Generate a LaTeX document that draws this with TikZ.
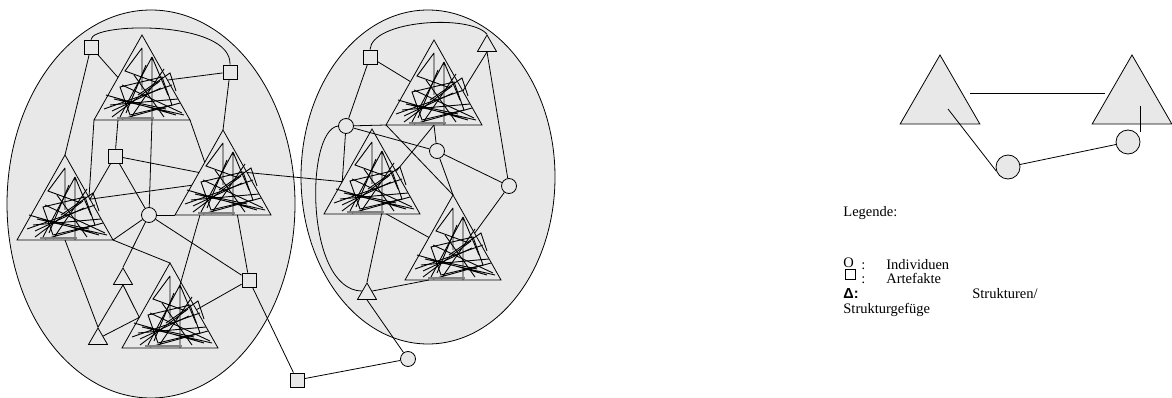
\documentclass[tikz,border=0pt]{standalone}
\usepackage{fontspec}
\setmainfont{Liberation Serif}
\newfontfamily\legsans{Liberation Sans}
\usepackage{tikz}
\usetikzlibrary{shapes.geometric, calc}

\definecolor{bgray}{HTML}{E8E8E8}
\newcommand\legfont{\fontsize{14.5}{16}\selectfont}

\tikzset{
  gefuege/.pic={
    \coordinate (-apex) at (0,0);
    \coordinate (-left) at (-48,85);
    \coordinate (-right) at (48,85);
    \coordinate (-top) at (10,22);
    \coordinate (-stem) at (10,85);
    \draw (-apex) -- (-left) -- (-right) -- cycle;
    % inner scribble
    \begin{scope}[line width=0.9pt]
      \draw (0,13) -- (0,55) (0,13) -- (-17,36) -- (16,48);
      \draw (-top) -- (-stem) (-top) -- (-4,48) -- (-22,82) (-top) -- (26,60);
      \draw (-22,52) -- (20,42) -- (30,70) -- (-12,80) -- cycle;
      \draw (-36,60) -- (34,80) (-38,74) -- (30,50) (-28,64) -- (42,80);
      \draw (-30,82) -- (18,46) (-12,84) -- (22,34) (-20,84) -- (38,68);
      \draw (-32,70) -- (36,64) (-8,40) -- (22,82) (4,30) -- (-16,78);
      \draw (-4,60) -- (28,38) -- (34,56);
      \draw (-30,76) -- (19,53) (-20,50) -- (40,78) (-14,66) -- (24,74);
    \end{scope}
    \draw[gray, line width=1.2pt] (-25,83) -- (12,83);
  }
}

\begin{document}
\begin{tikzpicture}[
  x=1pt, y=-1pt, line width=0.8pt,
  artefakt/.style={rectangle, draw, fill=bgray, minimum size=14pt, inner sep=0pt},
  individuum/.style={circle, draw, fill=bgray, minimum size=15pt, inner sep=0pt},
  struktur/.style={regular polygon, regular polygon sides=3, draw, fill=bgray,
                   minimum size=22pt, inner sep=0pt},
  legtri/.style={struktur, minimum size=92pt},
  legtext/.style={anchor=base west, inner sep=0pt, font=\legfont},
]
  \useasboundingbox (0,0) rectangle (1172,398);

  % the two groups
  \draw[fill=bgray] (151,204) ellipse [x radius=144pt, y radius=194pt];
  \draw[fill=bgray] (428,177) ellipse [x radius=127pt, y radius=167pt];

  % structure clusters
  \pic (gef1) at (142,35) {gefuege};
  \pic (gef2) at (65,155) {gefuege};
  \pic (gef3) at (223,130) {gefuege};
  \pic (gef4) at (170,263) {gefuege};
  \pic (gef5) at (434,40) {gefuege};
  \pic (gef6) at (372,129) {gefuege};
  \pic (gef7) at (453,195) {gefuege};

  % artefacts, individuals, structures
  \node[artefakt] (art1) at (91,47) {};
  \node[artefakt] (art2) at (230,72) {};
  \node[artefakt] (art3) at (115,156) {};
  \node[artefakt] (art4) at (249,280) {};
  \node[artefakt] (art5) at (297,380) {};
  \node[artefakt] (art6) at (370,57) {};
  \node[individuum] (ind1) at (149,215) {};
  \node[individuum] (ind2) at (346,126) {};
  \node[individuum] (ind3) at (437,151) {};
  \node[individuum] (ind4) at (509,186) {};
  \node[individuum] (ind5) at (408,359) {};
  \node[struktur] (str1) at (123,279) {};
  \node[struktur] (str2) at (98,339) {};
  \node[struktur] (str3) at (487,46) {};
  \node[struktur] (str4) at (367,294) {};

  % left group
  \draw (art1.north) .. controls (92,22) and (232,20) .. (art2.north);
  \draw (art1) -- ($(gef1-apex)!0.5!(gef1-left)$);
  \draw (art1) -- (gef2-apex);
  \draw (art2) -- ($(gef1-apex)!0.53!(gef1-right)$);
  \draw (art2) -- (gef3-apex);
  \draw (gef1-left) -- ($(gef2-apex)!0.5!(gef2-right)$);
  \draw ($(gef1-left)!0.25!(gef1-right)$) -- (art3);
  \draw (art3) -- ($(gef2-apex)!0.52!(gef2-right)$) -- ($(gef3-apex)!0.65!(gef3-left)$);
  \draw (art3) -- (ind1);
  \draw (art3) -- ($(gef3-apex)!0.5!(gef3-left)$);
  \draw (gef1-right) -- ($(gef3-apex)!0.38!(gef3-left)$);
  \draw (gef1-stem) -- (ind1);
  \draw (ind1) -- (gef2-right);
  \draw (ind1) -- (gef3-left);
  \draw (ind1) -- (art4);
  \draw (ind1) -- (str1.corner 1);
  \draw (gef2-right) -- (gef4-apex);
  \draw ($(gef2-left)!0.5!(gef2-right)$) -- (str2.corner 1);
  \draw (str1.south) -- (str2.corner 1);
  \draw (str1.south) -- ($(gef4-apex)!0.64!(gef4-left)$) -- (str2.side 3);
  \draw ($(gef3-left)!0.26!(gef3-right)$) -- (gef4-top);
  \draw ($(gef3-left)!0.65!(gef3-right)$) -- (art4);
  \draw (art4) -- ($(gef4-apex)!0.55!(gef4-right)$);
  \draw (art4) -- (art5);
  \draw ($(gef3-apex)!0.5!(gef3-right)$) -- ($(gef6-apex)!0.62!(gef6-left)$);
  \draw (ind5) -- (art5);

  % right group
  \draw (art6.north) .. controls (372,20) and (470,14) .. (str3.corner 1);
  \draw (art6) -- ($(gef5-apex)!0.49!(gef5-left)$);
  \draw (art6) -- (ind2);
  \draw (str3.south) -- ($(gef5-apex)!0.6!(gef5-right)$);
  \draw (str3.south) -- (ind4);
  \draw (ind2) -- (gef5-left);
  \draw (ind2) -- (ind3);
  \draw ($(gef5-left)!0.5!(gef5-right)$) -- (ind3);
  \draw ($(gef5-left)!0.5!(gef5-right)$) -- ($(gef6-apex)!0.5!(gef6-right)$);
  \draw (ind3) -- (ind4);
  \draw (ind3) -- (gef7-apex);
  \draw (gef5-left) -- (gef7-apex);
  \draw (ind4) -- ($(gef7-apex)!0.45!(gef7-right)$);
  \draw (ind2) -- ($(gef6-apex)!0.62!(gef6-left)$);
  \draw (ind2.west) .. controls (305,130) and (305,290) .. (str4.side 1);
  \draw ($(gef6-left)!0.6!(gef6-right)$) -- (str4.corner 1);
  \draw ($(gef6-left)!0.65!(gef6-right)$) -- ($(gef7-apex)!0.5!(gef7-left)$);
  \draw (str4.side 3) -- ($(gef7-left)!0.25!(gef7-right)$);
  \draw (str4.south) -- (ind5);

  % legend sketch
  \node[legtri] (legA) at (940,101) {};
  \node[legtri] (legB) at (1132,101) {};
  \node[individuum, minimum size=24pt] (legC) at (1008,167) {};
  \node[individuum, minimum size=24pt] (legD) at (1128,142) {};
  \draw ([xshift=30pt,yshift=8pt]legA.center) -- ([xshift=-27pt,yshift=8pt]legB.center);
  \draw ([xshift=8pt,yshift=-8pt]legA.center) -- (legC.200);
  \draw (legC) -- (legD);
  \draw ([xshift=8pt,yshift=-5pt]legB.center) -- ([xshift=8pt,yshift=-31pt]legB.center);

  % legend text
  \node[legtext] (legHead) at (843,217) {Legende:};
  \node[legtext] (symO) at (843,267) {O};
  \node[draw, line width=0.7pt, minimum size=10pt, inner sep=0pt] (symSq) at (850,274) {};
  \node[legtext] (colA) at (861,269) {:};
  \node[legtext] (txtA) at (886,269) {Individuen};
  \node[legtext] (colB) at (861,283) {:};
  \node[legtext] (txtB) at (886,283) {Artefakte};
  \node[legtext] (symD) at (843,298) {\legsans\bfseries Δ:};
  \node[legtext, anchor=base east] (txtC) at (1038,298) {Strukturen/};
  \node[legtext] (txtD) at (843,313) {Strukturgefüge};
\end{tikzpicture}
\end{document}
